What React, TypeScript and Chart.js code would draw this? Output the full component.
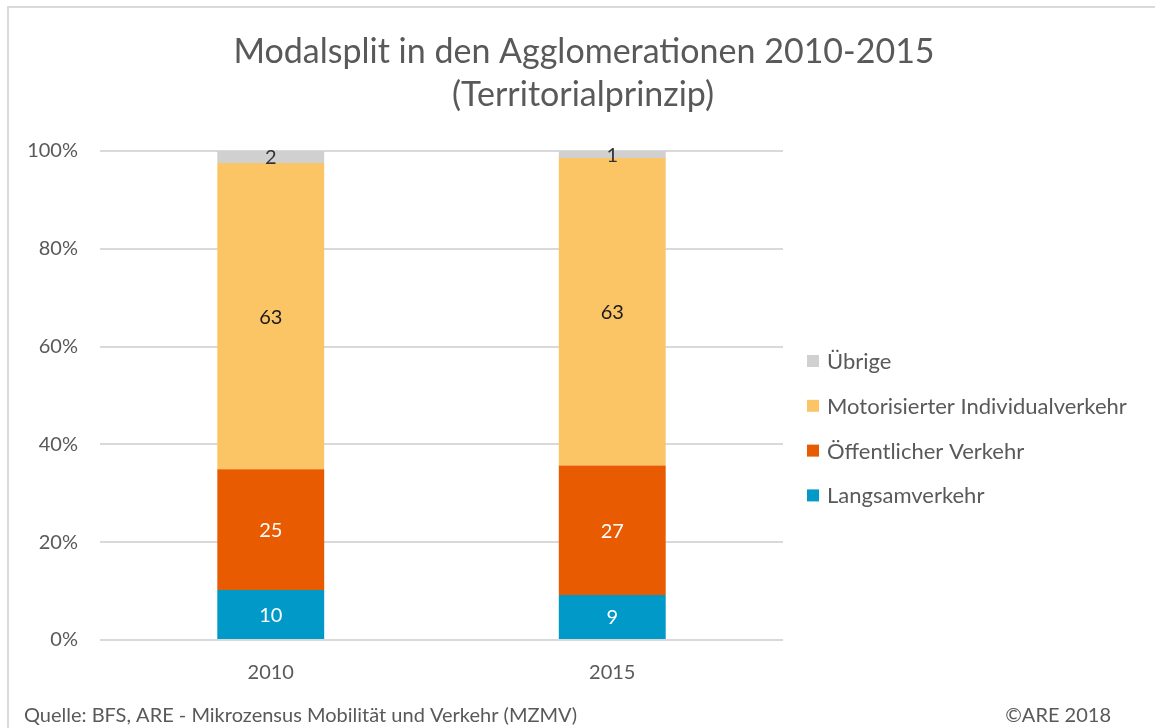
import React, { useEffect, useRef } from "react";
import { Chart, registerables } from "chart.js";

Chart.register(...registerables);

const categories = ["2010", "2015"];
const langsamverkehr = [10.2, 9.2];
const oeffentlicherVerkehr = [24.7, 26.5];
const motorisierterIV = [62.65, 62.85];
const uebrige = [2.45, 1.45];

const seriesNames = ["Langsamverkehr", "Öffentlicher Verkehr", "Motorisierter Individualverkehr", "Übrige"];
const seriesColors = ["#0099C8", "#E95B00", "#FBC566", "#D0D0D0"];
const labelColors = ["#FFFFFF", "#FFFFFF", "#1A1A1A", "#333333"];

const titleLines = ["Modalsplit in den Agglomerationen 2010-2015", "(Territorialprinzip)"];
const sourceText = "Quelle: BFS, ARE - Mikrozensus Mobilität und Verkehr (MZMV)";
const copyrightText = "©ARE 2018";
const yTickStep = 20;

const FONT = "Lato, 'Open Sans', sans-serif";
const TEXT = "#595959";

const decorPlugin = {
  id: "decor",
  beforeDraw(chart: any) {
    const ctx = chart.ctx;
    ctx.save();
    ctx.fillStyle = "#FFFFFF";
    ctx.fillRect(0, 0, chart.width, chart.height);
    ctx.strokeStyle = "#D9D9D9";
    ctx.lineWidth = 2;
    ctx.strokeRect(8, 7, chart.width + 50, chart.height + 50);
    ctx.restore();
  },
  afterDraw(chart: any) {
    const ctx = chart.ctx;
    ctx.save();
    // title
    ctx.fillStyle = TEXT;
    ctx.textAlign = "center";
    ctx.textBaseline = "alphabetic";
    ctx.font = `34px ${FONT}`;
    ctx.fillText(titleLines[0], 584, 63);
    ctx.fillText(titleLines[1], 583, 106);

    // data labels
    ctx.font = `20px ${FONT}`;
    ctx.textBaseline = "middle";
    chart.data.datasets.forEach((ds: any, i: number) => {
      const meta = chart.getDatasetMeta(i);
      meta.data.forEach((el: any, j: number) => {
        const v = ds.data[j];
        ctx.fillStyle = labelColors[i];
        ctx.fillText(String(Math.round(v)), el.x, (el.y + el.base) / 2 + 1);
      });
    });

    // legend (reversed)
    const legendX = 807;
    const legendY0 = 361;
    const legendStep = 44.8;
    ctx.textAlign = "left";
    ctx.font = `22px ${FONT}`;
    const n = chart.data.datasets.length;
    for (let k = 0; k < n; k++) {
      const ds = chart.data.datasets[n - 1 - k];
      const cy = legendY0 + k * legendStep;
      ctx.fillStyle = ds.backgroundColor;
      ctx.fillRect(legendX, cy - 6, 12, 12);
      ctx.fillStyle = TEXT;
      ctx.fillText(ds.label, legendX + 20, cy + 1);
    }

    // footer
    ctx.font = `20px ${FONT}`;
    ctx.fillStyle = TEXT;
    ctx.textBaseline = "middle";
    ctx.fillText(sourceText, 24, 716);
    ctx.textAlign = "right";
    ctx.fillText(copyrightText, 1111, 716);
    ctx.restore();
  },
};

export default function App() {
  const canvasRef = useRef<HTMLCanvasElement | null>(null);

  useEffect(() => {
    if (!canvasRef.current) return;
    const series = [langsamverkehr, oeffentlicherVerkehr, motorisierterIV, uebrige];
    const chart = new Chart(canvasRef.current, {
      type: "bar",
      data: {
        labels: categories,
        datasets: series.map((d, i) => ({
          label: seriesNames[i],
          data: d,
          backgroundColor: seriesColors[i],
          borderWidth: 0,
          categoryPercentage: 1,
          barPercentage: 0.313,
        })),
      },
      options: {
        responsive: false,
        animation: false,
        devicePixelRatio: 1,
        layout: { padding: { left: 8, right: 372, top: 151, bottom: 0 } },
        plugins: {
          legend: { display: false },
          title: { display: false },
          tooltip: { enabled: false },
        },
        scales: {
          x: {
            stacked: true,
            grid: { display: false, drawTicks: false },
            border: { display: false },
            ticks: { color: TEXT, font: { family: FONT, size: 20 }, padding: 21 },
            afterFit: (s: any) => {
              s.height = 88;
            },
          },
          y: {
            stacked: true,
            min: 0,
            max: 100,
            grid: { color: "#D9D9D9", lineWidth: 2, drawTicks: false },
            border: { display: false },
            ticks: {
              stepSize: yTickStep,
              color: TEXT,
              font: { family: FONT, size: 20 },
              padding: 22,
              callback: (v: any) => `${v}%`,
            },
            afterFit: (s: any) => {
              s.width = 92;
            },
          },
        },
      },
      plugins: [decorPlugin],
    });
    return () => chart.destroy();
  }, []);

  return (
    <div style={{ position: "absolute", left: 0, top: 0, width: 1155, height: 728, background: "#fff" }}>
      <canvas ref={canvasRef} width={1155} height={728} style={{ display: "block" }} />
    </div>
  );
}
